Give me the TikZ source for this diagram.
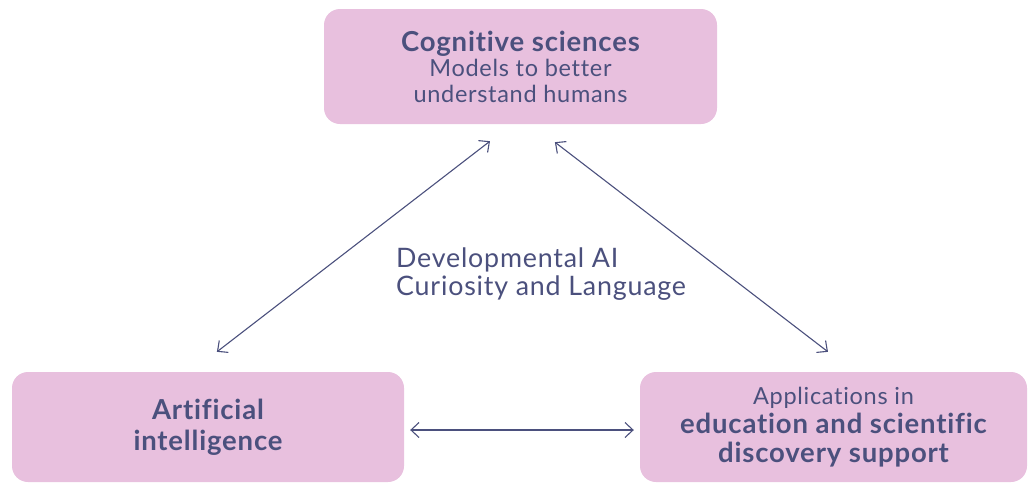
\documentclass[tikz,border=0pt]{standalone}
\usepackage{fontspec}
\setmainfont{Lato}[LetterSpace=3,Ligatures=NoCommon]
\usepackage{tikz}
\usetikzlibrary{arrows.meta}
\definecolor{boxpink}{RGB}{232,192,222}
\definecolor{inkblue}{RGB}{75,80,125}

\begin{document}
\begin{tikzpicture}[x=1pt,y=-1pt]
\tikzstyle{box} = [rectangle, rounded corners=16pt, fill=boxpink, text=inkblue, align=center, inner sep=0pt]
\tikzstyle{midtext} = [text=inkblue, align=left, inner sep=0pt, font=\fontsize{26.8}{28}\selectfont]
\tikzstyle{biarrow} = [draw=inkblue, line width=1.1pt, {Straight Barb[length=8pt,width=15pt]}-{Straight Barb[length=8pt,width=15pt]}]

\useasboundingbox (0,0) rectangle (1028,483);

%nodes
\node (cogsci) [box, minimum width=393pt, minimum height=115pt, font=\fontsize{23.5}{25.5}\selectfont] at (520.5,66.5)
  {{\fontsize{27.5}{27}\selectfont\bfseries Cognitive sciences}\\Models to better\\understand humans};
\node (ai) [box, minimum width=392pt, minimum height=110pt, font=\fontsize{27.5}{31}\selectfont\bfseries] at (208,427)
  {Artificial\\intelligence};
\node (app) [box, minimum width=387pt, minimum height=110pt, font=\fontsize{23.5}{29}\selectfont] at (833.5,427)
  {Applications in\\{\fontsize{27.5}{28}\selectfont\bfseries education and scientific}\\{\fontsize{27.5}{27}\selectfont\bfseries discovery support}};
\node (dev) [midtext, anchor=west] at (396,274) {Developmental AI\\Curiosity and Language};

%arrows
\draw [biarrow, shorten <=32.7pt, shorten >=27.8pt] ([xshift=-17pt]ai.north) -- ([xshift=-8.5pt]cogsci.south);
\draw [biarrow, shorten <=29.5pt, shorten >=32.8pt] ([xshift=11pt]cogsci.south) -- ([xshift=20.5pt]app.north);
\draw [biarrow, shorten <=6pt, shorten >=6pt] ([yshift=-3pt]ai.east) -- ([yshift=-3pt]app.west);
\end{tikzpicture}
\end{document}
